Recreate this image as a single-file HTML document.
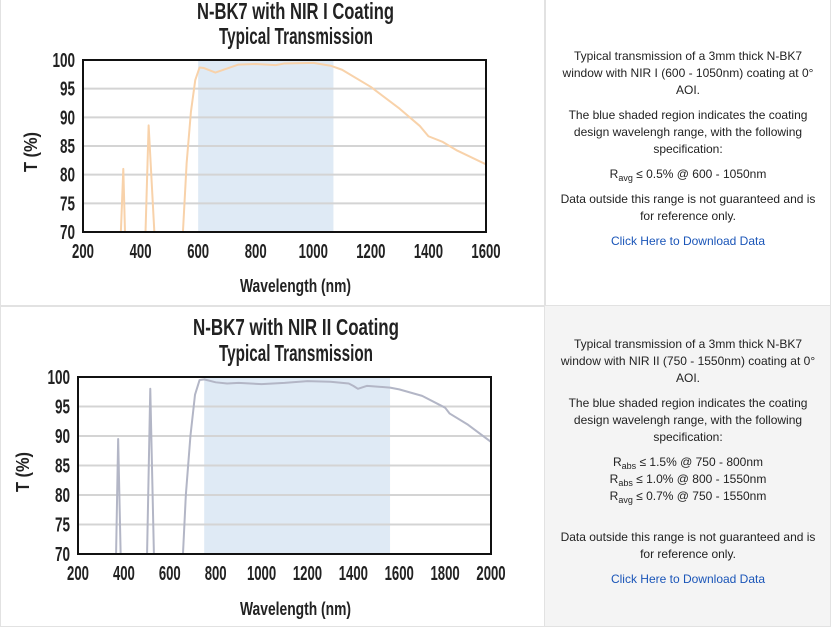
<!DOCTYPE html>
<html><head><meta charset="utf-8"><style>
body{margin:0;width:833px;height:621px;background:#fff;overflow:hidden;position:relative;font-family:"Liberation Sans",sans-serif}
.box{position:absolute;border:1px solid #e2e2e2}
.txt{position:absolute;left:556px;width:264px;text-align:center;font-size:12px;color:#222;line-height:17px}
.txt p{margin:0 0 8px 0}
.txt a{color:#1a55b8;text-decoration:none}
sub{font-size:9px;vertical-align:-3px;line-height:0}
svg text{font-family:"Liberation Sans",sans-serif;font-weight:bold;fill:#222}
</style></head><body>
<div class="box" style="left:0;top:-1px;width:544px;height:306px"></div>
<div class="box" style="left:544px;top:-1px;width:285px;height:306px"></div>
<div class="box" style="left:0;top:305px;width:544px;height:320px"></div>
<div class="box" style="left:544px;top:305px;width:285px;height:320px;background:#f4f4f4"></div>
<svg width="833" height="621" style="position:absolute;left:0;top:0" id="s">
<text x="197" y="19" font-size="23" textLength="197" lengthAdjust="spacingAndGlyphs">N-BK7 with NIR I Coating</text>
<text x="219" y="44" font-size="23" textLength="154" lengthAdjust="spacingAndGlyphs">Typical Transmission</text>
<text x="193" y="335" font-size="23" textLength="206" lengthAdjust="spacingAndGlyphs">N-BK7 with NIR II Coating</text>
<text x="219" y="361" font-size="23" textLength="154" lengthAdjust="spacingAndGlyphs">Typical Transmission</text>
<text x="240" y="292" font-size="18" textLength="111" lengthAdjust="spacingAndGlyphs">Wavelength (nm)</text>
<text x="240" y="615" font-size="18" textLength="111" lengthAdjust="spacingAndGlyphs">Wavelength (nm)</text>
<text transform="translate(37,172) rotate(-90)" font-size="18" textLength="40" lengthAdjust="spacingAndGlyphs">T (%)</text>
<text transform="translate(29,492) rotate(-90)" font-size="18" textLength="40" lengthAdjust="spacingAndGlyphs">T (%)</text>
</svg>
<div class="txt" style="top:48px">
<p>Typical transmission of a 3mm thick N-BK7 window with NIR I (600 - 1050nm) coating at 0° AOI.</p>
<p>The blue shaded region indicates the coating design wavelengh range, with the following specification:</p>
<p>R<sub>avg</sub> ≤ 0.5% @ 600 - 1050nm</p>
<p>Data outside this range is not guaranteed and is for reference only.</p>
<p><a>Click Here to Download Data</a></p>
</div>
<div class="txt" style="top:336px">
<p>Typical transmission of a 3mm thick N-BK7 window with NIR II (750 - 1550nm) coating at 0° AOI.</p>
<p>The blue shaded region indicates the coating design wavelengh range, with the following specification:</p>
<p style="margin-bottom:24px">R<sub>abs</sub> ≤ 1.5% @ 750 - 800nm<br>R<sub>abs</sub> ≤ 1.0% @ 800 - 1550nm<br>R<sub>avg</sub> ≤ 0.7% @ 750 - 1550nm</p>
<p>Data outside this range is not guaranteed and is for reference only.</p>
<p><a>Click Here to Download Data</a></p>
</div>
<script>
var s=document.getElementById('s'),NS='http://www.w3.org/2000/svg';
function el(t,a,txt){var e=document.createElementNS(NS,t);for(var k in a)e.setAttribute(k,a[k]);if(txt!=null)e.textContent=txt;s.appendChild(e);return e;}
function chart(c){
 var X=function(n){return c.x0+(n-c.n0)*(c.x1-c.x0)/(c.n1-c.n0)},Y=function(t){return c.y0+(100-t)*(c.y1-c.y0)/30};
 el('rect',{x:X(c.s0),y:c.y0,width:X(c.s1)-X(c.s0),height:c.y1-c.y0,fill:'#dfeaf5'});
 for(var t=75;t<100;t+=5)el('line',{x1:c.x0,x2:c.x1,y1:Y(t),y2:Y(t),stroke:'#d4d4d4','stroke-width':2});
 el('clipPath',{id:c.id}).appendChild(function(){var r=document.createElementNS(NS,'rect');r.setAttribute('x',c.x0);r.setAttribute('y',c.y0-3);r.setAttribute('width',c.x1-c.x0);r.setAttribute('height',c.y1-c.y0+3);return r}());
 c.segs.forEach(function(sg){el('polyline',{points:sg.map(function(p){return X(p[0])+','+Y(p[1])}).join(' '),fill:'none',stroke:c.col,'stroke-width':2,'stroke-linejoin':'round','clip-path':'url(#'+c.id+')'});});
 el('rect',{x:c.x0,y:c.y0,width:c.x1-c.x0,height:c.y1-c.y0,fill:'none',stroke:'#111','stroke-width':2});
 for(var t=70;t<=100;t+=5){var L=String(t).length*7.5;el('text',{x:c.x0-8-L,y:Y(t)+7,'font-size':20,textLength:L,lengthAdjust:'spacingAndGlyphs'},t);}
 for(var n=c.n0;n<=c.n1;n+=c.step){var L=String(n).length*7.3;el('text',{x:X(n)-L/2,y:c.y1+26,'font-size':20,textLength:L,lengthAdjust:'spacingAndGlyphs'},n);}
}
chart({id:'c1',x0:83,x1:486,y0:60,y1:232,n0:200,n1:1600,step:200,s0:600,s1:1070,col:'#f8d2aa',segs:[
 [[330,68],[340,81],[347,68]],[[416,68],[428,88.6],[450,68]],
 [[545,68],[560,82],[575,91],[590,96.5],[605,98.7],[620,98.6],[660,97.8],[700,98.5],[740,99.2],[800,99.3],[870,99.1],[900,99.4],[1000,99.5],[1060,99],[1100,98.3],[1200,95.3],[1300,91.5],[1370,88.5],[1400,86.7],[1450,85.7],[1500,84.2],[1600,81.8]]]});
chart({id:'c2',x0:78,x1:491,y0:377,y1:554,n0:200,n1:2000,step:200,s0:750,s1:1560,col:'#b3b6c6',segs:[
 [[365,68],[375,89.5],[387,68]],[[500,68],[515,98],[532,68]],
 [[655,68],[670,80],[690,90],[710,97],[730,99.5],[750,99.6],[800,99.1],[850,98.9],[900,99],[1000,98.8],[1100,99],[1200,99.3],[1300,99.2],[1380,98.9],[1400,98.5],[1420,98],[1460,98.5],[1560,98.2],[1600,97.9],[1700,96.8],[1800,94.8],[1820,93.8],[1900,91.9],[2000,89]]]});
</script>
</body></html>
